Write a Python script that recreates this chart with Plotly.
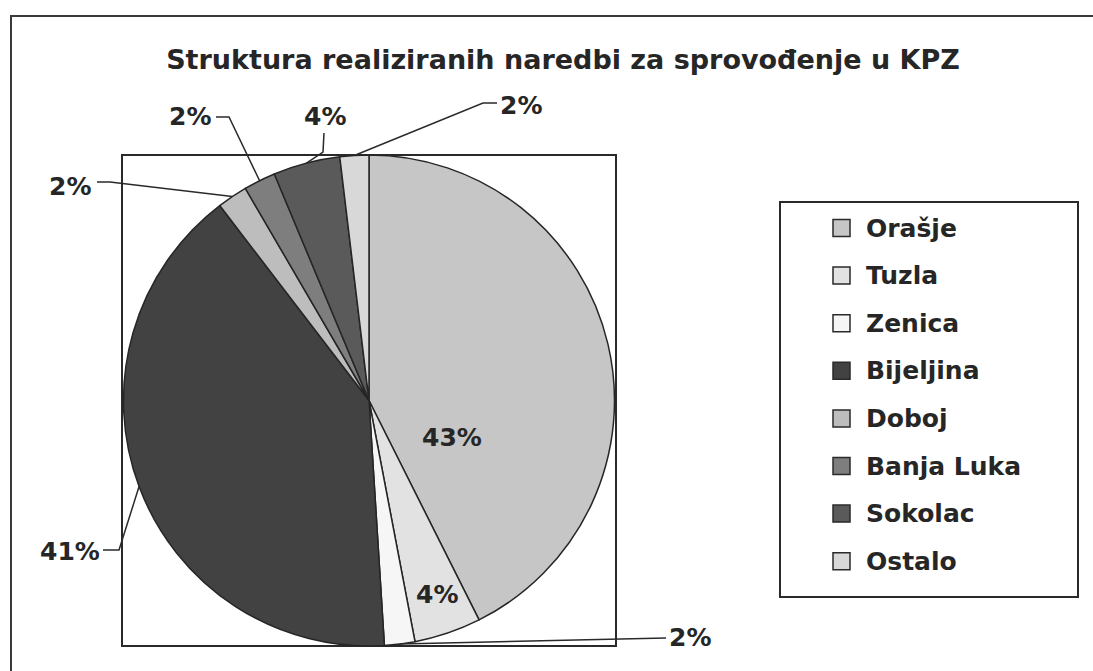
import math
import plotly.graph_objects as go

# ---- data ----
categories = ["Orašje", "Tuzla", "Zenica", "Bijeljina", "Doboj", "Banja Luka", "Sokolac", "Ostalo"]
values = [42.6, 4.4, 2.0, 40.6, 2.0, 2.1, 4.4, 1.9]
colors = ["#c6c6c6", "#e2e2e2", "#f6f6f6", "#424242", "#bdbdbd", "#7e7e7e", "#5a5a5a", "#d8d8d8"]
title_text = "Struktura realiziranih naredbi za sprovođenje u KPZ"

# ---- layout constants (pixels) ----
W, H = 1093, 671
PIE_BOX = (122, 155, 616, 646)  # left, top, right, bottom
FONT = "DejaVu Sans"
TXT = "#262626"

# label centres and leader-line label-side points (pixels)
label_pos = [(452, 437), (437, 594), (690, 637), (70, 551),
             (70, 186), (190, 117), (325, 116), (521, 105)]
leader_pts = [None, None, [(666, 638)], [(103, 550), (119, 550)],
              [(97, 182), (110, 182)], [(216, 117), (229, 117)],
              [(324, 133), (323, 152)], [(497, 103), (483, 103)]]

legend_x_sq, legend_x_txt, legend_y0, legend_dy, sq = 833, 864, 228, 47.6, 17


def px(x):
    return x / W


def py(y):
    return 1 - y / H


l, t, r, b = PIE_BOX
cx, cy = (l + r) / 2, (t + b) / 2
rad = min(r - l, b - t) / 2

fig = go.Figure(go.Pie(
    labels=categories, values=values, sort=False, direction="clockwise", rotation=0,
    marker=dict(colors=colors, line=dict(color="#262626", width=1.5)),
    textinfo="none", showlegend=False,
    domain=dict(x=[px(l), px(r)], y=[py(b), py(t)]),
))

shapes = []
annotations = []
# outer chart frame and plot-area frame
shapes.append(dict(type="rect", xref="paper", yref="paper", x0=px(11), y0=py(H + 20),
                   x1=px(W + 20), y1=py(16), line=dict(color="#3a3a3a", width=2)))
shapes.append(dict(type="rect", xref="paper", yref="paper", x0=px(l), y0=py(b),
                   x1=px(r), y1=py(t), line=dict(color="#2a2a2a", width=2), layer="below"))

total = sum(values)
cum = 0
for i, v in enumerate(values):
    mid = (cum + v / 2) / total * 2 * math.pi
    cum += v
    ax, ay = cx + rad * math.sin(mid), cy - rad * math.cos(mid)
    pct = f"{v / total:.0%}"
    lx, ly = label_pos[i]
    annotations.append(dict(x=px(lx), y=py(ly), xref="paper", yref="paper", text=pct,
                            showarrow=False, xanchor="center", yanchor="middle",
                            font=dict(family=FONT, size=25, color=TXT, weight="bold")))
    if leader_pts[i]:
        pts = leader_pts[i] + [(ax, ay)]
        path = "M " + " L ".join(f"{px(x):.5f},{py(y):.5f}" for x, y in pts)
        shapes.append(dict(type="path", xref="paper", yref="paper", path=path,
                           line=dict(color="#2a2a2a", width=1.5)))

# legend (manual, from the category/colour arrays)
shapes.append(dict(type="rect", xref="paper", yref="paper", x0=px(780), y0=py(597),
                   x1=px(1078), y1=py(202), line=dict(color="#2a2a2a", width=2)))
for i, (name, col) in enumerate(zip(categories, colors)):
    yc = legend_y0 + i * legend_dy
    shapes.append(dict(type="rect", xref="paper", yref="paper",
                       x0=px(legend_x_sq), x1=px(legend_x_sq + sq),
                       y0=py(yc + sq / 2), y1=py(yc - sq / 2),
                       fillcolor=col, line=dict(color="#2a2a2a", width=1.5)))
    annotations.append(dict(x=px(legend_x_txt), y=py(yc), xref="paper", yref="paper",
                            text=name, showarrow=False, xanchor="left", yanchor="middle",
                            font=dict(family=FONT, size=25, color=TXT, weight="bold")))

fig.update_layout(
    width=W, height=H, margin=dict(l=0, r=0, t=0, b=0),
    paper_bgcolor="white", plot_bgcolor="white",
    title=dict(text=title_text, x=px(563), xanchor="center", y=py(60), yanchor="middle",
               font=dict(family=FONT, size=27, color=TXT, weight="bold")),
    shapes=shapes, annotations=annotations, showlegend=False,
)

fig.write_html("out.html", config={"displayModeBar": False},
               post_script="document.body.style.margin='0';document.body.style.overflow='hidden';")
